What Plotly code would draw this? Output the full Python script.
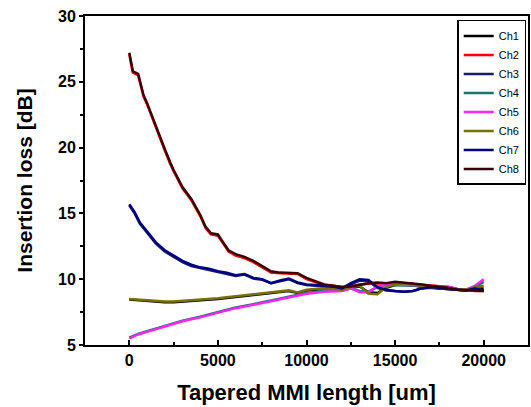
import plotly.graph_objects as go

# Tapered MMI length [um]
x_ch8 = [0, 200, 500, 800, 1000, 1300, 1500, 1800, 2000, 2300, 2500, 3000, 3500, 4000, 4300, 4600, 5000, 5300, 5600, 6000, 6500, 7000, 7500, 8000, 8500, 9000, 9500, 10000, 10500, 11000, 11500, 12000, 12500, 13000, 13500, 14000, 14500, 15000, 15500, 16000, 16500, 17000, 17500, 18000, 18500, 19000, 19500, 20000]
ch8 = [27.2, 25.8, 25.6, 24.0, 23.4, 22.3, 21.6, 20.6, 19.9, 18.9, 18.3, 17.0, 16.1, 14.9, 14.0, 13.5, 13.4, 12.8, 12.2, 11.9, 11.7, 11.4, 11.0, 10.6, 10.5, 10.5, 10.45, 10.1, 9.85, 9.6, 9.5, 9.4, 9.45, 9.6, 9.7, 9.75, 9.7, 9.8, 9.75, 9.7, 9.6, 9.5, 9.45, 9.35, 9.2, 9.15, 9.1, 9.1]
ch2 = [27.1, 25.7, 25.5, 23.9, 23.3, 22.2, 21.5, 20.5, 19.8, 18.8, 18.2, 16.9, 16.0, 14.8, 13.9, 13.4, 13.3, 12.7, 12.1, 11.8, 11.6, 11.3, 10.9, 10.5, 10.45, 10.4, 10.4, 10.0, 9.8, 9.55, 9.5, 9.4, 9.45, 9.6, 9.65, 9.7, 9.65, 9.75, 9.7, 9.65, 9.55, 9.5, 9.45, 9.4, 9.25, 9.15, 9.1, 9.1]

x_ch7 = [0, 300, 600, 1000, 1500, 2000, 2500, 3000, 3500, 4000, 4500, 5000, 5500, 6000, 6500, 7000, 7500, 8000, 8500, 9000, 9500, 10000, 10500, 11000, 11500, 12000, 12500, 13000, 13500, 14000, 14500, 15000, 15500, 16000, 16500, 17000, 17500, 18000, 18500, 19000, 19500, 20000]
ch7 = [15.7, 15.1, 14.3, 13.6, 12.8, 12.2, 11.8, 11.4, 11.1, 10.9, 10.8, 10.6, 10.5, 10.3, 10.4, 10.1, 10.0, 9.7, 9.9, 10.05, 9.75, 9.6, 9.55, 9.5, 9.45, 9.3, 9.7, 10.0, 9.95, 9.4, 9.2, 9.1, 9.05, 9.1, 9.3, 9.4, 9.35, 9.3, 9.2, 9.15, 9.3, 9.15]
ch3 = [15.6, 15.0, 14.2, 13.5, 12.7, 12.1, 11.7, 11.3, 11.0, 10.85, 10.75, 10.55, 10.45, 10.25, 10.35, 10.05, 9.95, 9.7, 9.85, 10.0, 9.7, 9.55, 9.5, 9.45, 9.4, 9.3, 9.6, 9.9, 9.85, 9.35, 9.15, 9.1, 9.05, 9.1, 9.3, 9.35, 9.3, 9.25, 9.2, 9.15, 9.4, 9.1]

x_ch6 = [0, 1000, 1500, 2000, 2500, 3000, 3500, 4000, 5000, 6000, 7000, 8000, 8500, 9000, 9500, 10000, 10500, 11000, 11500, 12000, 12500, 13000, 13500, 14000, 14500, 15000, 15500, 16000, 16500, 17000, 17500, 18000, 18500, 19000, 19500, 20000]
ch6 = [8.5, 8.4, 8.3, 8.3, 8.3, 8.35, 8.4, 8.4, 8.55, 8.7, 8.85, 8.95, 9.05, 9.15, 9.0, 9.2, 9.25, 9.3, 9.25, 9.2, 9.4, 9.5, 8.9, 8.85, 9.4, 9.6, 9.7, 9.65, 9.45, 9.4, 9.35, 9.3, 9.2, 9.2, 9.4, 9.5]
ch1 = [8.45, 8.35, 8.25, 8.25, 8.25, 8.3, 8.35, 8.35, 8.5, 8.65, 8.8, 8.9, 9.0, 9.1, 8.95, 9.15, 9.2, 9.25, 9.2, 9.2, 9.35, 9.45, 9.0, 8.95, 9.35, 9.55, 9.6, 9.55, 9.4, 9.35, 9.3, 9.25, 9.15, 9.15, 9.3, 9.3]

x_ch5 = [0, 500, 1000, 2000, 3000, 4000, 5000, 6000, 7000, 8000, 9000, 10000, 11000, 12000, 12500, 13000, 13500, 14000, 14500, 15000, 16000, 17000, 18000, 18500, 19000, 19500, 20000]
ch5 = [5.5, 5.8, 6.0, 6.4, 6.8, 7.1, 7.45, 7.8, 8.05, 8.35, 8.65, 8.9, 9.05, 9.1, 9.3, 9.0, 9.0, 9.45, 9.6, 9.6, 9.55, 9.5, 9.4, 9.25, 9.2, 9.5, 10.0]
ch4 = [5.55, 5.85, 6.05, 6.45, 6.85, 7.15, 7.5, 7.85, 8.1, 8.4, 8.7, 8.95, 9.1, 9.15, 9.3, 9.1, 9.05, 9.4, 9.55, 9.55, 9.5, 9.45, 9.4, 9.25, 9.2, 9.4, 9.8]

series = [
    ("Ch1", x_ch6, ch1, "#000000"),
    ("Ch2", x_ch8, ch2, "#ff0000"),
    ("Ch3", x_ch7, ch3, "#1a1a6e"),
    ("Ch4", x_ch5, ch4, "#0e7a6e"),
    ("Ch5", x_ch5, ch5, "#ff22ff"),
    ("Ch6", x_ch6, ch6, "#7a7000"),
    ("Ch7", x_ch7, ch7, "#000080"),
    ("Ch8", x_ch8, ch8, "#3a0000"),
]

x_ticks = [0, 5000, 10000, 15000, 20000]
y_ticks = [5, 10, 15, 20, 25, 30]

fig = go.Figure()
for name, xs, ys, color in series:
    fig.add_trace(go.Scatter(x=xs, y=ys, name=name, mode="lines",
                             line=dict(color=color, width=2.5)))

fig.update_layout(
    width=531, height=407,
    margin=dict(l=85, r=1, t=16, b=62),
    paper_bgcolor="white", plot_bgcolor="white",
    font=dict(family="Arial, Liberation Sans, sans-serif", color="black"),
    showlegend=True,
    legend=dict(x=0.996, y=0.988, xanchor="right", yanchor="top",
                bordercolor="black", borderwidth=1.5, bgcolor="white",
                font=dict(size=11, family="Arial, Liberation Sans"),
                tracegroupgap=0, itemwidth=30),
)
fig.update_xaxes(
    range=[-2500, 22500], tickvals=x_ticks, ticktext=[str(v) for v in x_ticks],
    ticks="inside", ticklen=5, tickwidth=1.5, tickcolor="black",
    minor=dict(dtick=2500, tick0=0, ticks="inside", ticklen=3, tickcolor="black"),
    showline=True, linecolor="black", linewidth=2, mirror=True,
    showgrid=False, zeroline=False,
    tickfont=dict(size=16, family="Arial, Liberation Sans", weight="bold"),
    title=dict(text="Tapered MMI length [um]", font=dict(size=22, weight="bold"), standoff=16),
)
fig.update_yaxes(
    range=[5, 30], tickvals=y_ticks, ticktext=[str(v) for v in y_ticks],
    ticks="outside", ticklen=4, tickwidth=1.5, tickcolor="black",
    minor=dict(dtick=2.5, tick0=5, ticks="outside", ticklen=3, tickcolor="black"),
    showline=True, linecolor="black", linewidth=2, mirror=True,
    showgrid=False, zeroline=False,
    tickfont=dict(size=16, family="Arial, Liberation Sans", weight="bold"),
    title=dict(text="Insertion loss [dB]", font=dict(size=21, weight="bold"), standoff=20),
)

fig.write_html("out.html")
